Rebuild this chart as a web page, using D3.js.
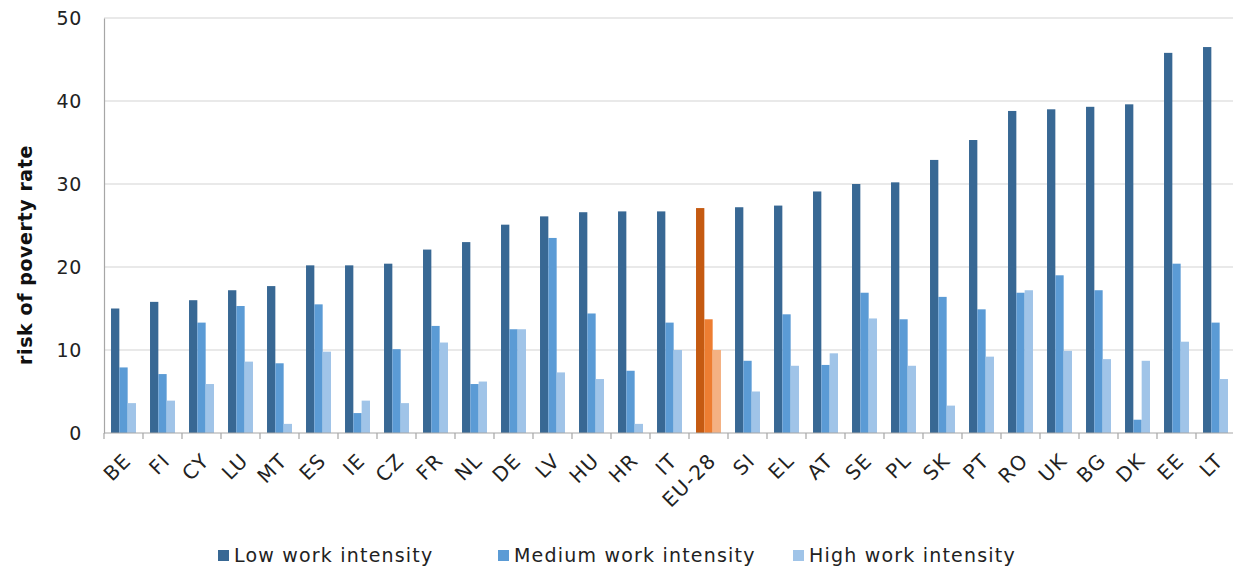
<!DOCTYPE html>
<html><head><meta charset="utf-8">
<script src="https://cdn.jsdelivr.net/npm/d3@7"></script>
<style>body{margin:0;background:#fff;} text{font-family:"DejaVu Sans",Verdana,sans-serif;}</style>
</head><body><svg id="c" width="1233" height="569"></svg>
<script>
const categories = ["BE","FI","CY","LU","MT","ES","IE","CZ","FR","NL","DE","LV","HU","HR","IT","EU-28","SI","EL","AT","SE","PL","SK","PT","RO","UK","BG","DK","EE","LT"];
const seriesNames = ["Low work intensity","Medium work intensity","High work intensity"];
const lowValues =    [15.0,15.8,16.0,17.2,17.7,20.2,20.2,20.4,22.1,23.0,25.1,26.1,26.6,26.7,26.7,27.1,27.2,27.4,29.1,30.0,30.2,32.9,35.3,38.8,39.0,39.3,39.6,45.8,46.5];
const mediumValues = [7.9,7.1,13.3,15.3,8.4,15.5,2.4,10.1,12.9,5.9,12.5,23.5,14.4,7.5,13.3,13.7,8.7,14.3,8.2,16.9,13.7,16.4,14.9,16.9,19.0,17.2,1.6,20.4,13.3];
const highValues =   [3.6,3.9,5.9,8.6,1.1,9.8,3.9,3.6,10.9,6.2,12.5,7.3,6.5,1.1,10.0,10.0,5.0,8.1,9.6,13.8,8.1,3.3,9.2,17.2,9.9,8.9,8.7,11.0,6.5];
const yTicks = [0,10,20,30,40,50];
const highlight = "EU-28";

const blueColors = ["#386894","#5b9bd5","#a0c4e8"];
const orangeColors = ["#c55a11","#ed7d31","#f4b183"];

const svg = d3.select("#c");
const m = {left:104, right:0, top:18, bottom:136};
const W = 1233, H = 569;
const x = d3.scaleBand().domain(categories).range([m.left, 1235]).paddingInner(0.36).paddingOuter(0.18);
const xs = d3.scaleBand().domain([0,1,2]).range([0, x.bandwidth()]);
const y = d3.scaleLinear().domain([0,50]).range([433, 18]);
const series = [lowValues, mediumValues, highValues];

// gridlines
svg.append("g").selectAll("line").data(yTicks.filter(d=>d>0)).join("line")
  .attr("x1", m.left).attr("x2", W).attr("y1", d=>y(d)).attr("y2", d=>y(d))
  .attr("stroke","#d4d4d4").attr("stroke-width",1.2);

// bars
categories.forEach((c,i)=>{
  series.forEach((s,j)=>{
    svg.append("rect")
      .attr("x", x(c)+xs(j)).attr("width", xs.bandwidth())
      .attr("y", y(s[i])).attr("height", y(0)-y(s[i]))
      .attr("fill", c===highlight ? orangeColors[j] : blueColors[j]);
  });
});

// y axis
const yAxis = d3.axisLeft(y).tickValues(yTicks).tickSize(0).tickPadding(22);
const gy = svg.append("g").attr("transform",`translate(${m.left},0)`).call(yAxis);
gy.select(".domain").attr("stroke","#a6a6a6").attr("stroke-width",1.2);
gy.selectAll("text").attr("font-size",19).attr("letter-spacing","0.6px").attr("fill","#222").attr("font-family","DejaVu Sans, Verdana, sans-serif");

// x axis line and ticks at band boundaries
svg.append("line").attr("x1",m.left).attr("x2",W).attr("y1",y(0)).attr("y2",y(0)).attr("stroke","#a6a6a6").attr("stroke-width",1.2);
const step = x.step();
const bounds = d3.range(categories.length+1).map(i=>x.range()[0]+i*step);
svg.append("g").selectAll("line").data(bounds).join("line")
  .attr("x1",d=>d).attr("x2",d=>d).attr("y1",y(0)).attr("y2",y(0)+6)
  .attr("stroke","#a6a6a6").attr("stroke-width",1.2);

// x labels
svg.append("g").selectAll("text").data(categories).join("text")
  .attr("transform", d=>`translate(${x(d)+x.bandwidth()/2+5},${y(0)+25}) rotate(-45)`)
  .attr("text-anchor","end").attr("dominant-baseline","middle")
  .attr("font-size",20).attr("letter-spacing","1.2px").attr("fill","#222").text(d=>d);

// y title
svg.append("text").attr("transform","translate(32,255) rotate(-90)")
  .attr("text-anchor","middle").attr("font-size",19).attr("letter-spacing","0.6px").attr("font-weight","bold").attr("fill","#111")
  .text("risk of poverty rate");

// legend
const legX = [218, 498, 793];
const lg = svg.append("g").selectAll("g").data(seriesNames).join("g")
  .attr("transform",(d,i)=>`translate(${legX[i]},555)`);
lg.append("rect").attr("x",0).attr("y",-5).attr("width",11).attr("height",11).attr("fill",(d,i)=>blueColors[i]);
lg.append("text").attr("x",16).attr("y",1).attr("dominant-baseline","middle").attr("font-size",19).attr("letter-spacing","1.2px").attr("fill","#222").text(d=>d);
</script></body></html>
